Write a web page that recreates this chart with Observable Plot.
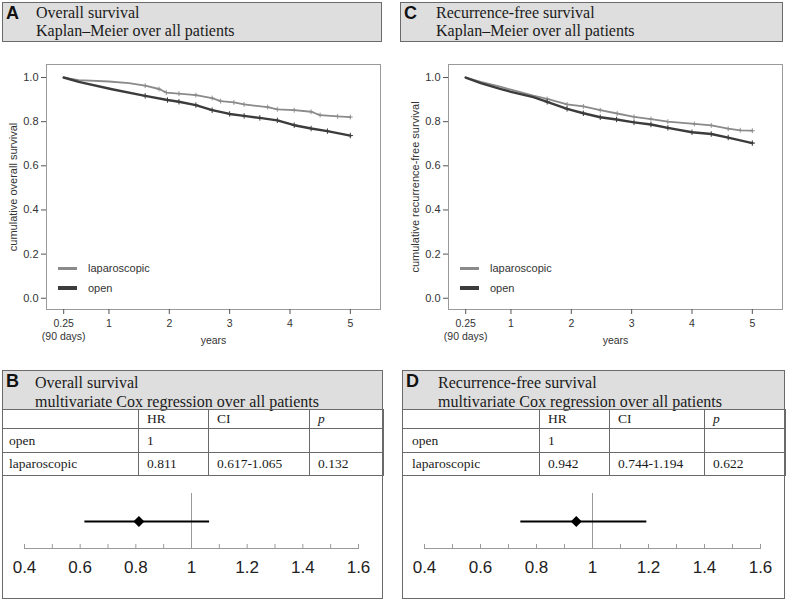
<!DOCTYPE html>
<html><head><meta charset="utf-8">
<script src="https://cdn.jsdelivr.net/npm/d3@7"></script>
<script src="https://cdn.jsdelivr.net/npm/@observablehq/plot@0.6"></script>
<style>
body{margin:0;background:#fff;}
#root{position:relative;width:787px;height:601px;overflow:hidden;background:#fff;font-family:"Liberation Serif","Times New Roman",serif;color:#1a1a1a;}
.abs{position:absolute;}
.gbox{position:absolute;box-sizing:border-box;background:#dedede;border:1px solid #6a6a6a;}
.wbox{position:absolute;box-sizing:border-box;background:#fff;border:1px solid #6a6a6a;}
.letter{position:absolute;font-family:"Liberation Sans",Arial,sans-serif;font-weight:bold;font-size:18px;line-height:17px;color:#111;}
.tlines{position:absolute;font-size:16px;white-space:nowrap;color:#1a1a1a;}
.leg{position:absolute;font-family:"Liberation Sans",Arial,sans-serif;font-size:11px;line-height:12px;color:#333;white-space:nowrap;}
table.cox{position:absolute;border-collapse:collapse;table-layout:fixed;font-family:"Liberation Serif","Times New Roman",serif;font-size:13.5px;color:#1a1a1a;}
table.cox td{border:1px solid #6a6a6a;padding:0 0 0 8px;vertical-align:middle;white-space:nowrap;overflow:hidden;}
.svgwrap{position:absolute;}
.svgwrap svg{display:block;}
</style>
</head>
<body>
<div id="root"></div>
<script>
// ---------- data ----------
const kmXTicks = [0.25, 1, 2, 3, 4, 5];
const kmYTicks = [0, 0.2, 0.4, 0.6, 0.8, 1.0];
const groups = ["laparoscopic", "open"];

// Overall survival (panel A)
const osLapT  = [0.25, 0.5, 1.0, 1.33, 1.6, 1.83, 1.95, 2.16, 2.44, 2.71, 2.85, 3.07, 3.24, 3.63, 3.79, 4.07, 4.35, 4.5, 4.79, 5.0];
const osLapS  = [1.0, 0.988, 0.982, 0.975, 0.963, 0.948, 0.932, 0.927, 0.92, 0.907, 0.893, 0.887, 0.878, 0.866, 0.856, 0.852, 0.845, 0.83, 0.824, 0.821];
const osOpenT = [0.25, 0.5, 1.05, 1.6, 1.97, 2.16, 2.44, 2.71, 3.0, 3.24, 3.5, 3.79, 4.07, 4.35, 4.62, 5.0];
const osOpenS = [1.0, 0.98, 0.947, 0.917, 0.898, 0.89, 0.875, 0.852, 0.835, 0.826, 0.817, 0.806, 0.784, 0.769, 0.757, 0.737];

// Recurrence-free survival (panel C)
const rfsLapT  = [0.25, 0.5, 0.82, 1.0, 1.37, 1.6, 1.93, 2.2, 2.48, 2.76, 3.04, 3.32, 3.6, 4.04, 4.32, 4.6, 4.8, 5.0];
const rfsLapS  = [1.0, 0.98, 0.959, 0.945, 0.918, 0.903, 0.878, 0.869, 0.852, 0.837, 0.822, 0.812, 0.8, 0.79, 0.783, 0.768, 0.761, 0.759];
const rfsOpenT = [0.25, 0.5, 0.82, 1.0, 1.37, 1.6, 1.93, 2.2, 2.48, 2.75, 3.04, 3.32, 3.6, 4.0, 4.32, 4.6, 5.0];
const rfsOpenS = [1.0, 0.975, 0.949, 0.935, 0.911, 0.89, 0.858, 0.838, 0.82, 0.81, 0.797, 0.787, 0.772, 0.752, 0.744, 0.728, 0.703];

// Cox regression (panels B, D)
const coxRows = ["open", "laparoscopic"];
const coxCols = ["", "HR", "CI", "p"];
const osHR  = [1, 0.811];
const osLo  = [null, 0.617];
const osHi  = [null, 1.065];
const osP   = [null, 0.132];
const rfsHR = [1, 0.942];
const rfsLo = [null, 0.744];
const rfsHi = [null, 1.194];
const rfsP  = [null, 0.622];
const forestMajor = [0.4, 0.6, 0.8, 1, 1.2, 1.4, 1.6];
const forestMinor = [0.4, 0.5, 0.6, 0.7, 0.8, 0.9, 1, 1.1, 1.2, 1.3, 1.4, 1.5, 1.6];
const refHR = [1];

// ---------- styling ----------
const lapColor = "#8a8a8a", openColor = "#3c3c3c";
const root = document.getElementById("root");
function el(tag, cls, css, html) {
  const e = document.createElement(tag);
  if (cls) e.className = cls;
  if (css) e.style.cssText = css;
  if (html != null) e.innerHTML = html;
  root.appendChild(e);
  return e;
}

function titleBox(left, width, letter, line1, line2, textLeft) {
  el("div", "gbox", `left:${left}px;top:2px;width:${width}px;height:40px;`);
  el("div", "letter", `left:${left + 4}px;top:5px;`, letter);
  el("div", "tlines", `left:${textLeft}px;top:4px;line-height:18.3px;`, line1 + "<br>" + line2);
}

function km(lapT, lapS, openT, openS, ylabel, width, marginRight) {
  const lap = lapT.map((t, i) => ({t, s: lapS[i], g: groups[0]}));
  const open = openT.map((t, i) => ({t, s: openS[i], g: groups[1]}));
  return Plot.plot({
    width, height: 300,
    marginLeft: 46, marginRight, marginTop: 14, marginBottom: 41,
    x: {domain: [-0.035, 5.5], label: null},
    y: {domain: [-0.051, 1.059], label: null},
    style: {fontFamily: "'Liberation Sans', Arial, sans-serif", fontSize: "10.5px", color: "#333", background: "transparent", overflow: "visible"},
    marks: [
      Plot.frame({stroke: "#9a9a9a"}),
      Plot.axisY({ticks: kmYTicks, tickFormat: d3.format(".1f"), tickSize: 5, tickPadding: 3, stroke: "#555",
        label: ylabel, labelAnchor: "center", labelOffset: 37, labelArrow: "none", fontSize: 11}),
      Plot.axisX({ticks: kmXTicks, tickFormat: d => d === 0.25 ? "0.25\n(90 days)" : String(d), tickSize: 5, tickPadding: 4,
        stroke: "#555", lineHeight: 1.2, label: "years", labelAnchor: "center", labelOffset: 34, labelArrow: "none"}),
      Plot.line(lap, {x: "t", y: "s", stroke: lapColor, strokeWidth: 1.8}),
      Plot.dot(lap.filter(d => d.t > 1.5), {x: "t", y: "s", symbol: "plus", r: 1.7, stroke: lapColor, strokeWidth: 0.9}),
      Plot.line(open, {x: "t", y: "s", stroke: openColor, strokeWidth: 2.4}),
      Plot.dot(open.filter(d => d.t > 1.5), {x: "t", y: "s", symbol: "plus", r: 1.9, stroke: openColor, strokeWidth: 1})
    ]
  });
}

function legend(lineLeft, textLeft) {
  el("div", "abs", `left:${lineLeft}px;top:266.5px;width:19px;height:3px;background:${lapColor};`);
  el("div", "leg", `left:${textLeft}px;top:261.5px;`, groups[0]);
  el("div", "abs", `left:${lineLeft}px;top:286px;width:19px;height:4px;background:${openColor};`);
  el("div", "leg", `left:${textLeft}px;top:281.5px;`, groups[1]);
}

function coxBox(left, width, letter, line1, line2, textLeft, colWidths, hr, lo, hi, p, firstPad) {
  el("div", "wbox", `left:${left}px;top:370px;width:${width}px;height:229px;`);
  el("div", "gbox", `left:${left}px;top:370px;width:${width}px;height:40px;`);
  el("div", "letter", `left:${left + 4}px;top:373px;`, letter);
  el("div", "tlines", `left:${textLeft}px;top:373px;line-height:19px;`, line1 + "<br>" + line2);
  const t = el("table", "cox", `left:${left}px;top:409px;width:${width}px;`);
  const cg = document.createElement("colgroup");
  colWidths.forEach(w => { const c = document.createElement("col"); c.style.width = w + "px"; cg.appendChild(c); });
  t.appendChild(cg);
  const heights = [19, 24, 23];
  const rows = [coxCols.map((c, j) => j === 3 ? "<i>" + c + "</i>" : c)];
  coxRows.forEach((r, i) => rows.push([
    r,
    String(hr[i]),
    lo[i] == null ? "" : lo[i].toFixed(3) + "-" + hi[i].toFixed(3),
    p[i] == null ? "" : p[i].toFixed(3)
  ]));
  rows.forEach((r, i) => {
    const tr = document.createElement("tr");
    tr.style.height = heights[i] + "px";
    r.forEach((c, j) => {
      const td = document.createElement("td");
      td.innerHTML = c;
      if (j === 0) td.style.paddingLeft = firstPad + "px";
      tr.appendChild(td);
    });
    t.appendChild(tr);
  });
  const fr = [{g: coxRows[1], hr: hr[1], lo: lo[1], hi: hi[1]}];
  const svg = Plot.plot({
    width: width - 2, height: 120,
    marginLeft: 21, marginRight: 24, marginTop: 16, marginBottom: 49,
    x: {domain: [forestMinor[0], forestMinor[forestMinor.length - 1]], label: null},
    y: {domain: [coxRows[1]], axis: null, label: null},
    style: {fontFamily: "'Liberation Sans', Arial, sans-serif", fontSize: "17px", color: "#222", background: "transparent", overflow: "visible"},
    marks: [
      Plot.ruleX(refHR, {stroke: "#9a9a9a", strokeWidth: 1}),
      Plot.frame({anchor: "bottom", stroke: "#9a9a9a"}),
      Plot.axisX({ticks: forestMinor, tickSize: -4, tickFormat: () => "", stroke: "#9a9a9a", label: null}),
      Plot.axisX({ticks: forestMajor, tickSize: 0, tickPadding: 12, tickFormat: d => String(d), label: null}),
      Plot.ruleY(fr, {y: "g", x1: "lo", x2: "hi", stroke: "#000", strokeWidth: 2}),
      Plot.dot(fr, {x: "hr", y: "g", symbol: "diamond2", fill: "#000", stroke: "#000", r: 4})
    ]
  });
  const w = el("div", "svgwrap", `left:${left + 1}px;top:477px;`);
  w.appendChild(svg);
}

// ---------- panels ----------
titleBox(2, 380, "A", "Overall survival", "Kaplan–Meier over all patients", 36);
titleBox(400, 383, "C", "Recurrence-free survival", "Kaplan–Meier over all patients", 436);

const wa = el("div", "svgwrap", "left:0px;top:50px;");
wa.appendChild(km(osLapT, osLapS, osOpenT, osOpenS, "cumulative overall survival", 393, 13));
const wc = el("div", "svgwrap", "left:402px;top:50px;");
wc.appendChild(km(rfsLapT, rfsLapS, rfsOpenT, rfsOpenS, "cumulative recurrence-free survival", 385, 5));
legend(58, 88);
legend(460, 490);

coxBox(2, 381, "B", "Overall survival", "multivariate Cox regression over all patients", 35,
  [136, 70, 101, 74], osHR, osLo, osHi, osP, 6);
coxBox(402, 383, "D", "Recurrence-free survival", "multivariate Cox regression over all patients", 438,
  [137, 70, 95, 81], rfsHR, rfsLo, rfsHi, rfsP, 9);
</script>
</body></html>
